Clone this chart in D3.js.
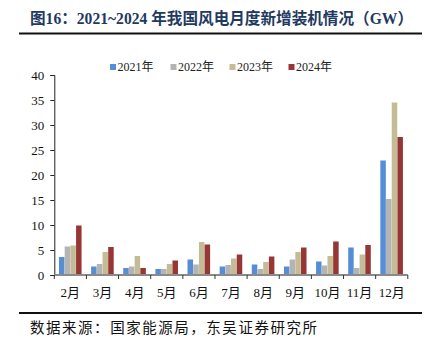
<!DOCTYPE html>
<html><head><meta charset="utf-8">
<script src="https://cdn.jsdelivr.net/npm/d3@7"></script>
<style>
html,body{margin:0;padding:0;background:#fff;}
svg{display:block;}
</style></head>
<body>
<script>
const months = ["2月","3月","4月","5月","6月","7月","8月","9月","10月","11月","12月"];
const seriesNames = ["2021年","2022年","2023年","2024年"];
const v2021 = [3.6,1.7,1.4,1.2,3.1,1.7,2.1,1.7,2.7,5.5,22.9];
const v2022 = [5.7,2.2,1.7,1.2,2.1,2.0,1.2,3.1,1.9,1.4,15.2];
const v2023 = [5.9,4.6,3.8,2.2,6.6,3.3,2.6,4.6,3.8,4.1,34.5];
const v2024 = [9.9,5.6,1.4,2.9,6.1,4.1,3.7,5.5,6.7,6.0,27.6];
const yTicks = [0,5,10,15,20,25,30,35,40];
const colors = ["#558ed5","#b4b4b4","#c4bc96","#973735"];
const titleText = "图16：2021~2024 年我国风电月度新增装机情况（GW）";
const sourceText = "数据来源：国家能源局，东吴证券研究所";

const W = 433, H = 356;
const serif = "'Liberation Serif','Times New Roman','Noto Sans CJK SC',serif";
const svg = d3.select("body").append("svg").attr("width", W).attr("height", H);

// title
svg.append("text").attr("x", 30).attr("y", 24)
  .attr("font-family", serif).attr("font-weight", "bold").attr("font-size", 16)
  .attr("fill", "#1f3a5f").attr("textLength", 383).attr("lengthAdjust", "spacingAndGlyphs")
  .text(titleText);

svg.append("line").attr("x1", 19).attr("x2", 422).attr("y1", 33.5).attr("y2", 33.5)
  .attr("stroke", "#111").attr("stroke-width", 2);

// scales
const x0 = d3.scaleBand().domain(months).range([54.3, 407.8]).paddingInner(0).paddingOuter(0);
const bw = 5.7;
const x1 = d3.scaleBand().domain(seriesNames).range([0, bw*4]);
const y = d3.scaleLinear().domain([0, 40]).range([275, 75]);

const data = [v2021, v2022, v2023, v2024];

// bars
const groups = svg.append("g");
months.forEach((m, i) => {
  const gx = x0(m) + (x0.bandwidth() - bw*4)/2;
  seriesNames.forEach((s, j) => {
    const val = data[j][i];
    groups.append("rect")
      .attr("x", gx + x1(s)).attr("width", x1.bandwidth() - 0.2)
      .attr("y", y(val)).attr("height", y(0) - y(val))
      .attr("fill", colors[j]);
  });
});

// y axis
const yAxis = svg.append("g").attr("transform", "translate(54.3,0)")
  .call(d3.axisLeft(y).tickValues(yTicks).tickSize(4).tickPadding(6));
yAxis.select(".domain").attr("stroke", "#222").attr("stroke-width", 1);
yAxis.selectAll(".tick line").attr("stroke", "#222");
yAxis.selectAll("text").attr("font-family", serif).attr("font-size", 13).attr("fill", "#111");

// x axis
const xAxisG = svg.append("g").attr("transform", "translate(0,275)");
xAxisG.append("line").attr("x1", 54.3).attr("x2", 407.8).attr("y1", 0).attr("y2", 0)
  .attr("stroke", "#8a8a8a").attr("stroke-width", 2);
const bounds = months.map(m => x0(m)).concat([x0.range()[1]]);
xAxisG.selectAll("line.tk").data(bounds).enter().append("line")
  .attr("class", "tk").attr("x1", d => d).attr("x2", d => d).attr("y1", 0).attr("y2", 4)
  .attr("stroke", "#333").attr("stroke-width", 1);
xAxisG.selectAll("text").data(months).enter().append("text")
  .attr("x", d => x0(d) + x0.bandwidth()/2).attr("y", 22)
  .attr("text-anchor", "middle").attr("font-family", serif).attr("font-size", 13)
  .attr("fill", "#111").text(d => d);

// legend
const legX = [110, 170.5, 229.5, 288.5];
seriesNames.forEach((s, j) => {
  svg.append("rect").attr("x", legX[j]).attr("y", 64).attr("width", 6).attr("height", 6)
    .attr("fill", colors[j]);
  svg.append("text").attr("x", legX[j] + 7.5).attr("y", 71)
    .attr("font-family", serif).attr("font-size", 12).attr("fill", "#222").text(s);
});

// bottom rule and source
svg.append("line").attr("x1", 19).attr("x2", 422).attr("y1", 313).attr("y2", 313)
  .attr("stroke", "#111").attr("stroke-width", 2);
svg.append("text").attr("x", 30).attr("y", 333)
  .attr("font-family", serif).attr("font-size", 14.5).attr("fill", "#111")
  .attr("textLength", 287).attr("lengthAdjust", "spacing")
  .text(sourceText);
</script>
</body></html>
